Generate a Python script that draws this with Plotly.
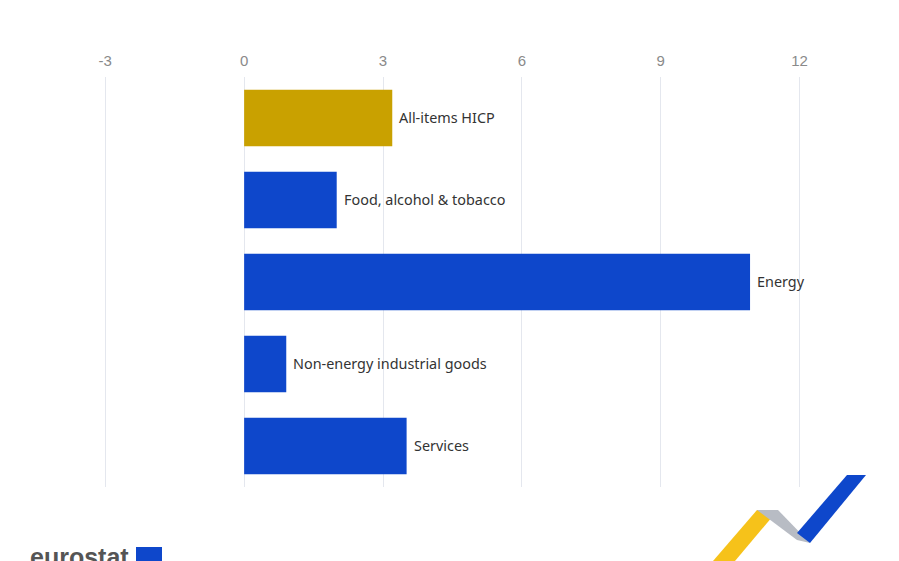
import plotly.graph_objects as go

categories = ["All-items HICP", "Food, alcohol & tobacco", "Energy",
              "Non-energy industrial goods", "Services"]
values = [3.2, 2.0, 10.93, 0.91, 3.51]
bar_colors = ["#C9A100", "#0E47CB", "#0E47CB", "#0E47CB", "#0E47CB"]
tick_vals = [-3, 0, 3, 6, 9, 12]
tick_text = ["-3", "0", "3", "6", "9", "12"]

W, H = 899, 561
ML, MR, MT, MB = 59, 30, 77, 74
PW, PH = W - ML - MR, H - MT - MB


def px(x):
    return (x - ML) / PW


def py(y):
    return (H - MB - y) / PH


def path(points):
    return "M " + " L ".join(f"{px(a):.5f},{py(b):.5f}" for a, b in points) + " Z"


fig = go.Figure(go.Bar(
    x=values, y=categories, orientation="h",
    marker=dict(color=bar_colors, line=dict(width=0)),
    hoverinfo="skip",
))

shapes = [
    dict(type="path", xref="paper", yref="paper", path=path([(713, 561), (757, 510), (778, 510), (735, 561)]),
         fillcolor="#F6C21A", line=dict(width=0), layer="above"),
    dict(type="path", xref="paper", yref="paper", path=path([(757, 510), (778, 510), (810, 543), (797, 540)]),
         fillcolor="#B8BCC4", line=dict(width=0), layer="above"),
    dict(type="path", xref="paper", yref="paper", path=path([(797, 533), (847, 475), (866, 475), (810, 543)]),
         fillcolor="#0E47CB", line=dict(width=0), layer="above"),
    dict(type="rect", xref="paper", yref="paper", x0=px(136), x1=px(162), y0=py(547), y1=py(575),
         fillcolor="#0E47CB", line=dict(width=0), layer="above"),
]

annotations = [
    dict(text=c, x=v, y=c, xref="x", yref="y", xanchor="left", yanchor="middle",
         xshift=5, yshift=1, showarrow=False,
         font=dict(family="Segoe UI, Noto Sans, sans-serif", size=14.4, color="#333333"))
    for c, v in zip(categories, values)
]
annotations.append(
    dict(text="<b>eurostat</b>", xref="paper", yref="paper", x=px(28), y=py(541),
         xanchor="left", yanchor="top", showarrow=False,
         font=dict(family="Liberation Sans, Arial, sans-serif", size=25, color="#555555"))
)

fig.update_layout(
    width=W, height=H,
    margin=dict(l=ML, r=MR, t=MT, b=MB),
    paper_bgcolor="white", plot_bgcolor="white",
    bargap=0.31,
    showlegend=False,
    shapes=shapes,
    annotations=annotations,
    xaxis=dict(range=[-4, 13.5], side="top", tickvals=tick_vals, ticktext=tick_text,
               showgrid=True, gridcolor="#E4E7EE", gridwidth=1, zeroline=False,
               showline=False, ticks="", ticklen=0, ticklabelstandoff=7,
               tickfont=dict(family="Liberation Sans, Arial, sans-serif", size=15, color="#8A8A8A")),
    yaxis=dict(autorange="reversed", showticklabels=False, showgrid=False,
               zeroline=False, showline=False, ticks=""),
)

fig.write_html("out.html")
